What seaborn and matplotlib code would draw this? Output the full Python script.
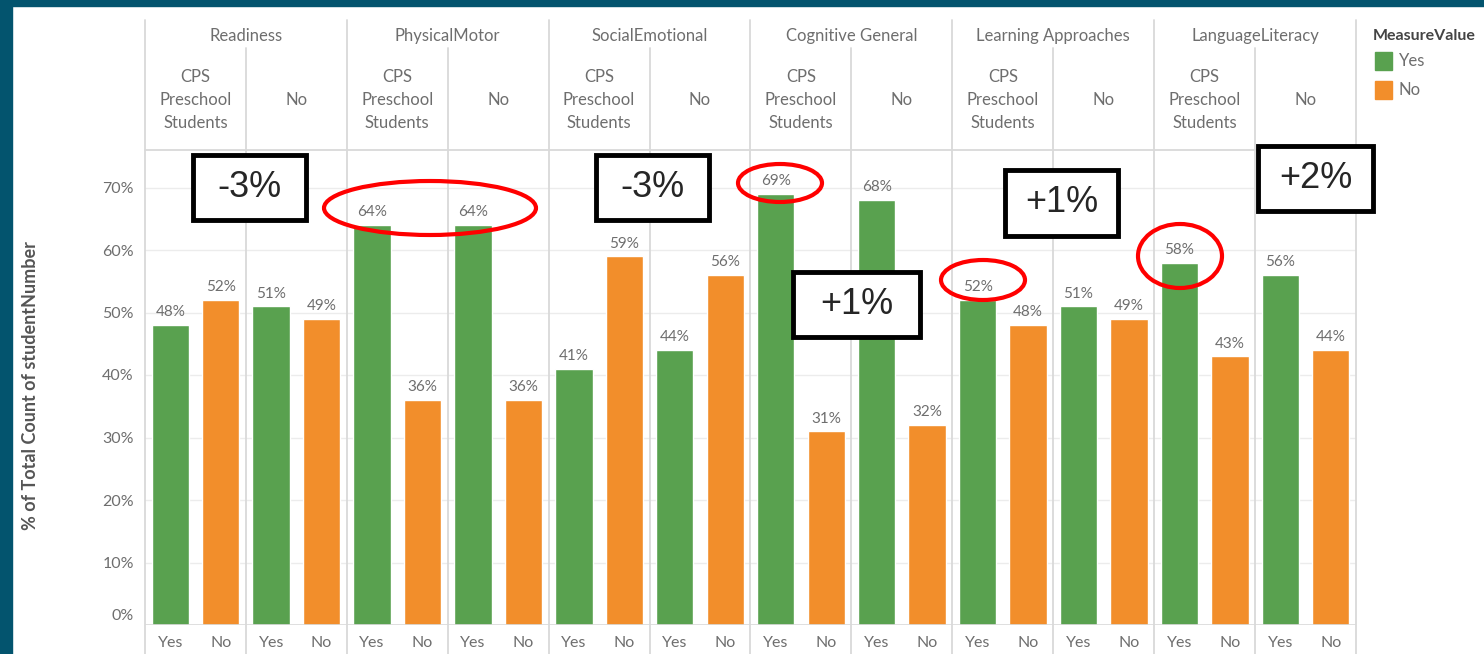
import matplotlib
matplotlib.use("Agg")
import matplotlib.pyplot as plt
import matplotlib.transforms as mtransforms
from matplotlib.patches import Rectangle, Ellipse
import seaborn as sns
import pandas as pd

# ---------------- data ----------------
categories = ["Readiness", "PhysicalMotor", "SocialEmotional",
              "Cognitive General", "Learning Approaches", "LanguageLiteracy"]
cohorts = ["CPS\nPreschool\nStudents", "No"]
measures = ["Yes", "No"]
cps_yes = [48, 64, 41, 69, 52, 58]
cps_no = [52, 36, 59, 31, 48, 43]
other_yes = [51, 64, 44, 68, 51, 56]
other_no = [49, 36, 56, 32, 49, 44]
y_ticks = [0, 10, 20, 30, 40, 50, 60, 70]
annot_boxes = ["-3%", "-3%", "+1%", "+1%", "+2%"]

# ---------------- frame ----------------
rows = []
slot = 0
for i, cat in enumerate(categories):
    for j, coh in enumerate(cohorts):
        vals = (cps_yes[i], cps_no[i]) if j == 0 else (other_yes[i], other_no[i])
        for m, v in zip(measures, vals):
            rows.append({"slot": str(slot), "category": cat, "cohort": coh,
                         "MeasureValue": m, "pct": v})
            slot += 1
df = pd.DataFrame(rows)
order = [str(k) for k in range(len(df))]

W, H = 1484, 654
fig = plt.figure(figsize=(W / 100, H / 100), dpi=100)
sns.set_style("white")
plt.rcParams["font.family"] = ["Lato", "DejaVu Sans"]

def fx(px):
    return px / W

def fy(py):
    return 1 - py / H

ax_l, ax_r, ax_t, ax_b = 145, 1356, 150, 625
ax = fig.add_axes([fx(ax_l), fy(ax_b), fx(ax_r - ax_l), (ax_b - ax_t) / H])

palette = {"Yes": "#59A14F", "No": "#F28E2B"}
sns.barplot(data=df, x="slot", y="pct", hue="MeasureValue", order=order,
            palette=palette, dodge=False, width=0.74, saturation=1,
            legend=False, ax=ax)

ax.set_ylim(0, 76)
ax.set_xlim(-0.5, len(df) - 0.5)
grey = "#6e6e6e"
line_c = "#d9d9d9"

# gridlines
for t in y_ticks[1:]:
    ax.axhline(t, color="#ececec", lw=1, zorder=0)
ax.set_yticks(y_ticks)
ax.set_yticklabels([f"{t}%" for t in y_ticks], color=grey, fontsize=11.5)
ax.tick_params(axis="y", length=0, pad=8)
lab0 = ax.get_yticklabels()[0]
lab0.set_transform(lab0.get_transform() + mtransforms.ScaledTranslation(0, 11 / 100, fig.dpi_scale_trans))

ax.set_xticks(range(len(df)))
ax.set_xticklabels(df["MeasureValue"].tolist(), color=grey, fontsize=11.5)
ax.set_xticks([k + 0.5 for k in range(0, len(df), 2)], minor=True)
ax.tick_params(axis="x", which="major", length=0, pad=8)
ax.tick_params(axis="x", which="minor", length=6, color="#e4e4e4", width=1)
ax.set_xlabel("")
ax.set_ylabel("")
for s in ax.spines.values():
    s.set_visible(False)
ax.axhline(0, color=line_c, lw=1.2, zorder=3)

# value labels (from each drawn bar's own height)
for patch in ax.patches:
    h = patch.get_height()
    if h <= 0:
        continue
    cx = patch.get_x() + patch.get_width() / 2
    ax.annotate(f"{h:.0f}%", (cx, h), xytext=(0, 4),
                textcoords="offset points", ha="center", va="bottom",
                color=grey, fontsize=11)

# header lines and texts
hdr_top = (ax_b - 20) / (ax_b - ax_t)
hdr_mid = (ax_b - 48) / (ax_b - ax_t)
bottom_ext = (ax_b - H) / (ax_b - ax_t)
trans = mtransforms.blended_transform_factory(ax.transData, ax.transAxes)
n_cat = len(categories)
for k in range(n_cat * 2 + 1):
    xpos = k * 2 - 0.5
    top = hdr_top if k % 2 == 0 else hdr_mid
    ax.plot([xpos, xpos], [bottom_ext, top], transform=trans, color=line_c,
            lw=1.3, clip_on=False, zorder=4)
ax.plot([-0.5, len(df) - 0.5], [1, 1], transform=trans, color=line_c,
        lw=1.3, clip_on=False)
for i, cat in enumerate(categories):
    ax.text(i * 4 + 1.5, (ax_b - 36) / (ax_b - ax_t), cat, transform=trans,
            ha="center", va="center", color=grey, fontsize=12)
    for j, coh in enumerate(cohorts):
        ax.text(i * 4 + j * 2 + 0.5, (ax_b - 100) / (ax_b - ax_t), coh,
                transform=trans, ha="center", va="center", color=grey,
                fontsize=12, linespacing=1.55)

# y label
fig.text(fx(31), fy(386), "% of Total Count of studentNumber", rotation=90,
         ha="center", va="center", fontsize=13, fontweight="bold", color="#555555")

# legend
fig.text(fx(1373), fy(36), "MeasureValue", ha="left", va="center",
         fontsize=11.5, fontweight="bold", color="#444444")
for k, m in enumerate(measures):
    y0 = 52 + k * 29
    fig.patches.append(Rectangle((fx(1375), fy(y0 + 18)), fx(17), 18 / H,
                                 transform=fig.transFigure, color=palette[m]))
    fig.text(fx(1399), fy(y0 + 9), m, ha="left", va="center",
             fontsize=12, color=grey)

# border frame
border = "#03546E"
fig.patches.append(Rectangle((0, 0), fx(12), 1, transform=fig.transFigure,
                             color=border, zorder=10))
fig.patches.append(Rectangle((0, fy(6)), 1, 6 / H, transform=fig.transFigure,
                             color=border, zorder=10))

# annotation boxes
box_geom = [(193, 155, 306, 220), (596, 155, 709, 220), (793, 272, 920, 337),
            (1005, 170, 1118, 236), (1258, 146, 1373, 211)]
for txt, (x0, y0, x1, y1) in zip(annot_boxes, box_geom):
    fig.patches.append(Rectangle((fx(x0), fy(y1)), fx(x1 - x0), (y1 - y0) / H,
                                 transform=fig.transFigure, facecolor="white",
                                 edgecolor="black", lw=3.5, zorder=20))
    fig.text(fx((x0 + x1) / 2), fy((y0 + y1) / 2), txt, ha="center",
             va="center", fontsize=26, family="Liberation Sans", zorder=21)

# red ellipses
ell_geom = [(430, 208, 212, 54), (780, 183, 84, 38), (983, 280, 84, 40),
            (1180, 256, 84, 64)]
for cx, cy, w, h in ell_geom:
    fig.patches.append(Ellipse((fx(cx), fy(cy)), fx(w), h / H,
                               transform=fig.transFigure, facecolor="none",
                               edgecolor="#FF0000", lw=3, zorder=20))

fig.savefig("out.png", dpi=100, facecolor="white")
